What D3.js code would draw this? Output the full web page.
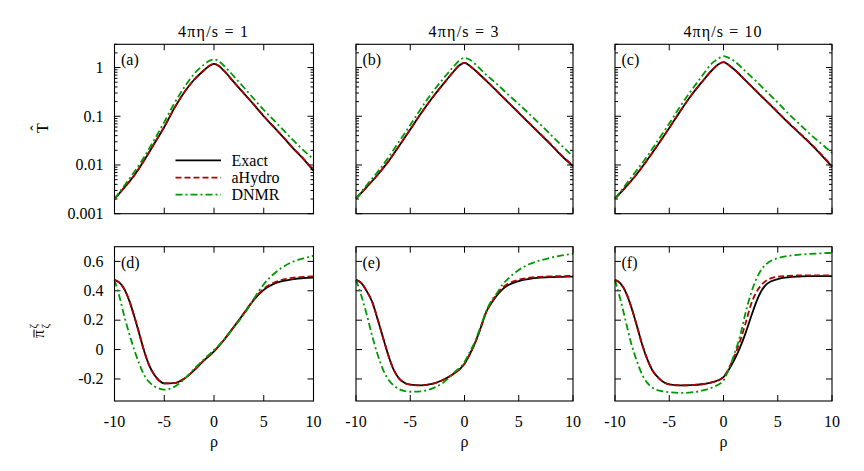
<!DOCTYPE html>
<html><head><meta charset="utf-8">
<script src="https://cdn.jsdelivr.net/npm/d3@7"></script>
<style>
body{margin:0;background:#fff}
svg{display:block}
</style>
</head><body>
<svg id="c" width="864" height="471" font-family="'Liberation Serif', 'Times New Roman', 'DejaVu Serif', serif"></svg>
<script>
// ---------- data ----------
const titles = ["4\u03C0\u03B7/s = 1", "4\u03C0\u03B7/s = 3", "4\u03C0\u03B7/s = 10"];
const topLabels = ["(a)", "(b)", "(c)"];
const botLabels = ["(d)", "(e)", "(f)"];
const seriesNames = ["Exact", "aHydro", "DNMR"];

const rhoTop = [-10,-9,-8,-7,-6,-5,-4,-3,-2,-1,-0.5,0,0.5,1,2,3,4,5,6,7,8,9,10];
const exactA  = [0.0020,0.00347,0.00617,0.0126,0.0275,0.0603,0.145,0.309,0.562,0.88,1.07,1.19,1.07,0.86,0.50,0.295,0.174,0.100,0.0603,0.0363,0.0214,0.0132,0.0076];
const aHydroA = [0.0020,0.00347,0.00617,0.0126,0.0275,0.0603,0.145,0.309,0.562,0.88,1.07,1.19,1.07,0.86,0.50,0.296,0.175,0.101,0.0608,0.0367,0.0217,0.0134,0.0078];
const dnmrA   = [0.0020,0.0038,0.00724,0.0148,0.0331,0.0759,0.182,0.389,0.741,1.15,1.36,1.46,1.34,1.09,0.66,0.389,0.229,0.135,0.0832,0.0513,0.0316,0.020,0.0132];
const exactB  = [0.00204,0.00355,0.00631,0.0120,0.0251,0.0537,0.115,0.234,0.447,0.83,1.10,1.25,1.08,0.87,0.537,0.324,0.195,0.117,0.0708,0.0427,0.0257,0.0151,0.0095];
const aHydroB = [0.00204,0.00355,0.00631,0.0120,0.0251,0.0537,0.115,0.234,0.447,0.83,1.10,1.25,1.08,0.87,0.538,0.326,0.197,0.118,0.0716,0.0433,0.0261,0.0154,0.0097];
const dnmrB   = [0.00204,0.00389,0.00724,0.0145,0.0309,0.0661,0.145,0.302,0.575,1.05,1.38,1.58,1.45,1.17,0.708,0.457,0.282,0.178,0.110,0.0676,0.0407,0.0245,0.0151];
const exactC  = [0.00204,0.00355,0.00646,0.0129,0.0269,0.0575,0.126,0.263,0.501,0.912,1.15,1.29,1.12,0.912,0.550,0.331,0.200,0.120,0.0724,0.0447,0.0275,0.0162,0.0093];
const aHydroC = [0.00204,0.00355,0.00646,0.0129,0.0269,0.0575,0.126,0.263,0.501,0.912,1.15,1.29,1.12,0.912,0.552,0.334,0.203,0.122,0.0737,0.0456,0.0281,0.0166,0.0095];
const dnmrC   = [0.00204,0.00398,0.00776,0.0155,0.0331,0.0708,0.158,0.331,0.661,1.26,1.51,1.71,1.58,1.35,0.851,0.525,0.316,0.191,0.112,0.0692,0.0427,0.0275,0.0178];

const rhoBot = [-10,-9.5,-9,-8.5,-8,-7.5,-7,-6.5,-6,-5.5,-5,-4,-3,-2,-1,0,0.5,1,1.5,2,2.5,3,3.5,4,5,6,7,8,9,10];
const exactD  = [0.474,0.455,0.41,0.33,0.223,0.105,-0.015,-0.11,-0.172,-0.212,-0.23,-0.228,-0.198,-0.141,-0.074,-0.013,0.025,0.065,0.11,0.155,0.20,0.246,0.292,0.337,0.406,0.447,0.468,0.48,0.487,0.49];
const aHydroD = [0.474,0.455,0.41,0.33,0.223,0.105,-0.015,-0.11,-0.172,-0.212,-0.23,-0.228,-0.198,-0.141,-0.074,-0.013,0.025,0.065,0.11,0.155,0.20,0.248,0.296,0.342,0.413,0.455,0.477,0.489,0.495,0.498];
const dnmrD   = [0.474,0.36,0.223,0.104,-0.005,-0.099,-0.176,-0.222,-0.25,-0.266,-0.273,-0.254,-0.202,-0.132,-0.066,-0.003,0.031,0.067,0.107,0.15,0.194,0.239,0.29,0.345,0.444,0.514,0.565,0.60,0.62,0.638];
const exactE  = [0.474,0.452,0.396,0.323,0.205,0.079,-0.044,-0.142,-0.2,-0.228,-0.239,-0.244,-0.234,-0.207,-0.165,-0.096,-0.03,0.05,0.15,0.255,0.318,0.37,0.41,0.437,0.466,0.481,0.489,0.493,0.495,0.497];
const aHydroE = [0.474,0.452,0.396,0.323,0.205,0.079,-0.044,-0.142,-0.2,-0.228,-0.239,-0.244,-0.234,-0.207,-0.165,-0.096,-0.03,0.05,0.15,0.256,0.322,0.378,0.42,0.447,0.476,0.489,0.495,0.498,0.5,0.501];
const dnmrE   = [0.474,0.364,0.235,0.09,-0.035,-0.138,-0.205,-0.246,-0.27,-0.282,-0.287,-0.284,-0.266,-0.227,-0.16,-0.084,-0.015,0.06,0.16,0.262,0.335,0.385,0.442,0.481,0.542,0.582,0.607,0.626,0.641,0.652];
const exactF  = [0.474,0.45,0.39,0.29,0.165,0.035,-0.07,-0.148,-0.192,-0.222,-0.237,-0.244,-0.242,-0.236,-0.222,-0.187,-0.135,-0.07,0.01,0.105,0.215,0.32,0.40,0.447,0.48,0.492,0.497,0.5,0.5,0.5];
const aHydroF = [0.474,0.45,0.39,0.29,0.165,0.035,-0.07,-0.148,-0.192,-0.222,-0.237,-0.244,-0.242,-0.236,-0.222,-0.187,-0.125,-0.045,0.052,0.17,0.30,0.387,0.44,0.472,0.496,0.502,0.505,0.505,0.505,0.505];
const dnmrF   = [0.474,0.34,0.19,0.04,-0.075,-0.17,-0.228,-0.262,-0.278,-0.286,-0.29,-0.295,-0.292,-0.28,-0.256,-0.21,-0.13,-0.03,0.085,0.24,0.375,0.475,0.545,0.585,0.622,0.638,0.646,0.651,0.655,0.658];

const xTicks = [-10,-5,0,5,10];
const xTickLabels = ["-10","-5","0","5","10"];
const yTopTicks = [0.001,0.01,0.1,1];
const yTopTickLabels = ["0.001","0.01","0.1","1"];
const yBotTicks = [-0.2,0,0.2,0.4,0.6];
const yBotTickLabels = ["-0.2","0","0.2","0.4","0.6"];

const topData = [[exactA,aHydroA,dnmrA],[exactB,aHydroB,dnmrB],[exactC,aHydroC,dnmrC]];
const botData = [[exactD,aHydroD,dnmrD],[exactE,aHydroE,dnmrE],[exactF,aHydroF,dnmrF]];

// ---------- layout / style ----------
const FONT = "'Liberation Serif', 'Times New Roman', 'DejaVu Serif', serif";
const cols = [[114.5,313.5],[356,573],[615,832]];
const topRange = [213.7,44.3], botRange = [401,246.7];
const styles = [
  {color:"#000000", dash:null},
  {color:"#b40000", dash:"6,3"},
  {color:"#009900", dash:"7,3,2,3"}
];
const FS = 16;
const titleLen = [70, 70, 78];
const svg = d3.select("#c");

function txt(g, s, size) {
  return g.append("text").attr("font-family", FONT).attr("font-size", size || FS).attr("fill","#000").text(s);
}

function panel(ci, isTop) {
  const [x0,x1] = cols[ci];
  const x = d3.scaleLinear().domain([-10,10]).range([x0,x1]);
  const y = isTop ? d3.scaleLog().domain([0.001,3]).range(topRange)
                  : d3.scaleLinear().domain([-0.35,0.7]).range(botRange);
  const [yb, yt] = isTop ? topRange : botRange;
  const g = svg.append("g");
  const tk = g.append("g").attr("stroke","#000").attr("stroke-width",1);
  xTicks.forEach(v=>{
    const px = x(v);
    tk.append("line").attr("x1",px).attr("x2",px).attr("y1",yb).attr("y2",yb-6);
    tk.append("line").attr("x1",px).attr("x2",px).attr("y1",yt).attr("y2",yt+6);
  });
  const yt_ = isTop ? yTopTicks : yBotTicks;
  yt_.forEach(v=>{
    const py = y(v);
    tk.append("line").attr("x1",x0).attr("x2",x0+6).attr("y1",py).attr("y2",py);
    tk.append("line").attr("x1",x1).attr("x2",x1-6).attr("y1",py).attr("y2",py);
  });
  if (isTop) {
    const minors = [];
    [-3,-2,-1,0].forEach(k=>{ for(let m=2;m<=9;m++){ const v=m*Math.pow(10,k); if(v<=3) minors.push(v);} });
    minors.forEach(v=>{
      const py = y(v);
      tk.append("line").attr("x1",x0).attr("x2",x0+3).attr("y1",py).attr("y2",py);
      tk.append("line").attr("x1",x1).attr("x2",x1-3).attr("y1",py).attr("y2",py);
    });
  }
  const rho = isTop ? rhoTop : rhoBot;
  const data = isTop ? topData[ci] : botData[ci];
  const line = d3.line().x((d,i)=>x(rho[i])).y(d=>y(d)).curve(d3.curveMonotoneX);
  data.forEach((arr,si)=>{
    g.append("path").attr("d", line(arr)).attr("fill","none")
      .attr("stroke", styles[si].color).attr("stroke-width",1.8)
      .attr("stroke-dasharray", styles[si].dash);
  });
  g.append("rect").attr("x",x0).attr("y",yt).attr("width",x1-x0).attr("height",yb-yt)
    .attr("fill","none").attr("stroke","#000").attr("stroke-width",1.1);
  txt(g, isTop ? topLabels[ci] : botLabels[ci]).attr("x",x0+6.5).attr("y",yt+21);
  if (ci===0) {
    const labs = isTop ? yTopTickLabels : yBotTickLabels;
    yt_.forEach((v,i)=>{
      txt(g, labs[i]).attr("x",x0-11).attr("y",y(v)).attr("dy","0.33em").attr("text-anchor","end");
    });
  }
  if (isTop) {
    txt(g, titles[ci]).attr("x",(x0+x1)/2 - 1).attr("y",36.5).attr("text-anchor","middle")
      .attr("textLength", titleLen[ci]).attr("lengthAdjust","spacing");
  } else {
    xTicks.forEach((v,i)=>{
      txt(g, xTickLabels[i]).attr("x",x(v)).attr("y",426.5).attr("text-anchor","middle");
    });
    txt(g, "\u03C1").attr("x",(x0+x1)/2).attr("y",447).attr("text-anchor","middle");
  }
}

for (let c=0;c<3;c++){ panel(c,true); panel(c,false); }

// legend in panel (a)
const leg = svg.append("g");
const legY = [160.3,177.6,194.6];
seriesNames.forEach((n,i)=>{
  leg.append("line").attr("x1",175.5).attr("x2",221).attr("y1",legY[i]).attr("y2",legY[i])
    .attr("stroke",styles[i].color).attr("stroke-width",1.8).attr("stroke-dasharray",styles[i].dash);
  txt(leg, n).attr("x",231.5).attr("y",legY[i]).attr("dy","0.33em");
});

// y-axis label top: T hat
const yl1 = svg.append("g").attr("transform","translate(48,128) rotate(-90)");
txt(yl1, "T").attr("x",0).attr("y",0).attr("text-anchor","middle");
txt(yl1, "\u02C6").attr("x",0).attr("y",-6).attr("text-anchor","middle");

// y-axis label bottom: pi bar ^zeta _zeta
const yl2 = svg.append("g").attr("transform","translate(44,329) rotate(-90)");
txt(yl2, "\u03C0").attr("x",-9).attr("y",0);
yl2.append("line").attr("x1",-8.5).attr("x2",-0.5).attr("y1",-10).attr("y2",-10).attr("stroke","#000").attr("stroke-width",1);
txt(yl2, "\u03B6", 11).attr("x",0.5).attr("y",-7);
txt(yl2, "\u03B6", 11).attr("x",0.5).attr("y",5);
</script>
</body></html>
